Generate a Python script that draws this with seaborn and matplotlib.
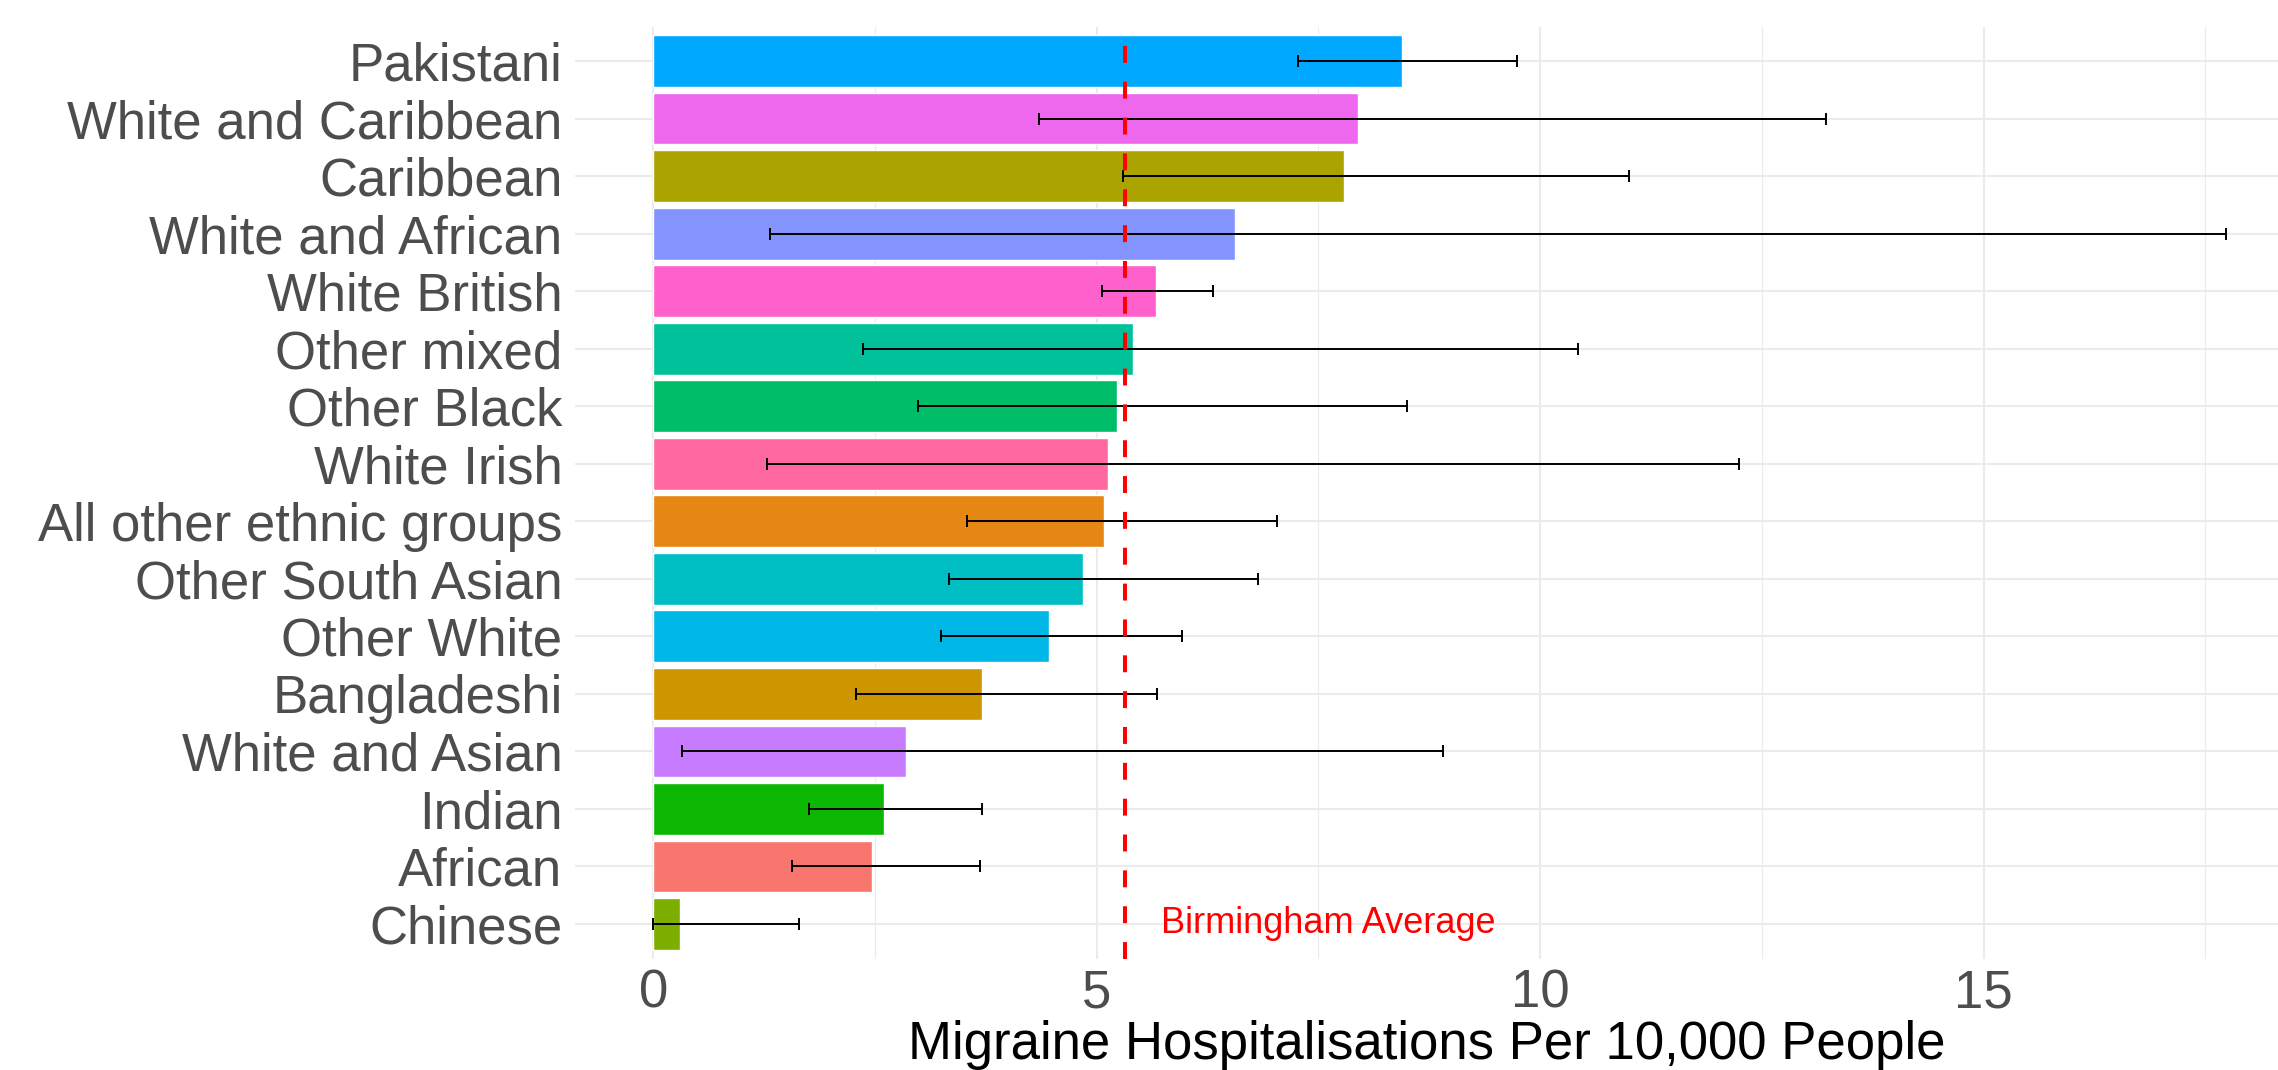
import numpy as np
import pandas as pd
import matplotlib
matplotlib.use("Agg")
import matplotlib.pyplot as plt
import seaborn as sns

# donnees (ordre du haut vers le bas)
groups = ["Pakistani", "White and Caribbean", "Caribbean", "White and African",
          "White British", "Other mixed", "Other Black", "White Irish",
          "All other ethnic groups", "Other South Asian", "Other White",
          "Bangladeshi", "White and Asian", "Indian", "African", "Chinese"]
rate = [8.44, 7.94, 7.79, 6.56, 5.67, 5.41, 5.23, 5.13, 5.08, 4.84, 4.46,
        3.71, 2.85, 2.60, 2.47, 0.30]
lower = [7.27, 4.35, 5.30, 1.32, 5.06, 2.36, 2.98, 1.28, 3.54, 3.33, 3.24,
         2.28, 0.32, 1.76, 1.56, 0.00]
upper = [9.74, 13.22, 11.00, 17.73, 6.31, 10.43, 8.50, 12.24, 7.03, 6.82, 5.96,
         5.68, 8.90, 3.70, 3.68, 1.64]
birmingham_avg = 5.32

colours = ["#00A9FF", "#ED68ED", "#ABA300", "#8494FF", "#FF61CC", "#00C19A",
           "#00BE67", "#FF68A1", "#E68613", "#00BFC4", "#00B8E7", "#CD9600",
           "#C77CFF", "#0CB702", "#F8766D", "#7CAE00"]

df = pd.DataFrame({"group": groups, "rate": rate, "lower": lower, "upper": upper})
palette = dict(zip(groups, colours))

sns.set_style("white")
plt.rcParams["font.family"] = ["Liberation Sans", "DejaVu Sans"]

fig = plt.figure(figsize=(22.78, 10.70), dpi=100)
ax = fig.add_axes([575 / 2278, 111.5 / 1070, 1 - 575 / 2278, 932 / 1070])

sns.barplot(data=df, x="rate", y="group", hue="group", palette=palette,
            order=groups, width=0.9, saturation=1, errorbar=None,
            legend=False, ax=ax, zorder=2)

# barres d'erreur
pos = np.arange(len(groups))
ax.errorbar(df["rate"], pos,
            xerr=[df["rate"] - df["lower"], df["upper"] - df["rate"]],
            fmt="none", ecolor="black", elinewidth=1.4, capsize=4.4,
            capthick=1.4, zorder=3)

# moyenne de Birmingham
ax.axvline(birmingham_avg, color="#FF0000", lw=2.9, ls=(0, (4.2, 4.7)), zorder=4)
ax.text(birmingham_avg + 0.4, pos[-1], "Birmingham Average", color="#FF0000",
        fontsize=26, ha="left", va="center", zorder=5)

ax.set_xlim(-0.884, 18.32)
ax.set_ylim(len(groups) - 1 + 0.6, -0.6)
ax.set_xticks([0, 5, 10, 15])
ax.set_xticks([2.5, 7.5, 12.5, 17.5], minor=True)

ax.grid(True, which="major", color="#EBEBEB", lw=1.5, zorder=0)
ax.grid(True, which="minor", axis="x", color="#EBEBEB", lw=0.8, zorder=0)
ax.set_axisbelow(True)
for s in ax.spines.values():
    s.set_visible(False)

ax.tick_params(axis="both", which="both", length=0, labelsize=38,
               labelcolor="#4D4D4D")
ax.tick_params(axis="y", pad=9)
ax.tick_params(axis="x", pad=7)
ax.set_ylabel("")
ax.set_xlabel("Migraine Hospitalisations Per 10,000 People", fontsize=38,
              color="black", labelpad=1)

fig.savefig("out.png", dpi=100)
